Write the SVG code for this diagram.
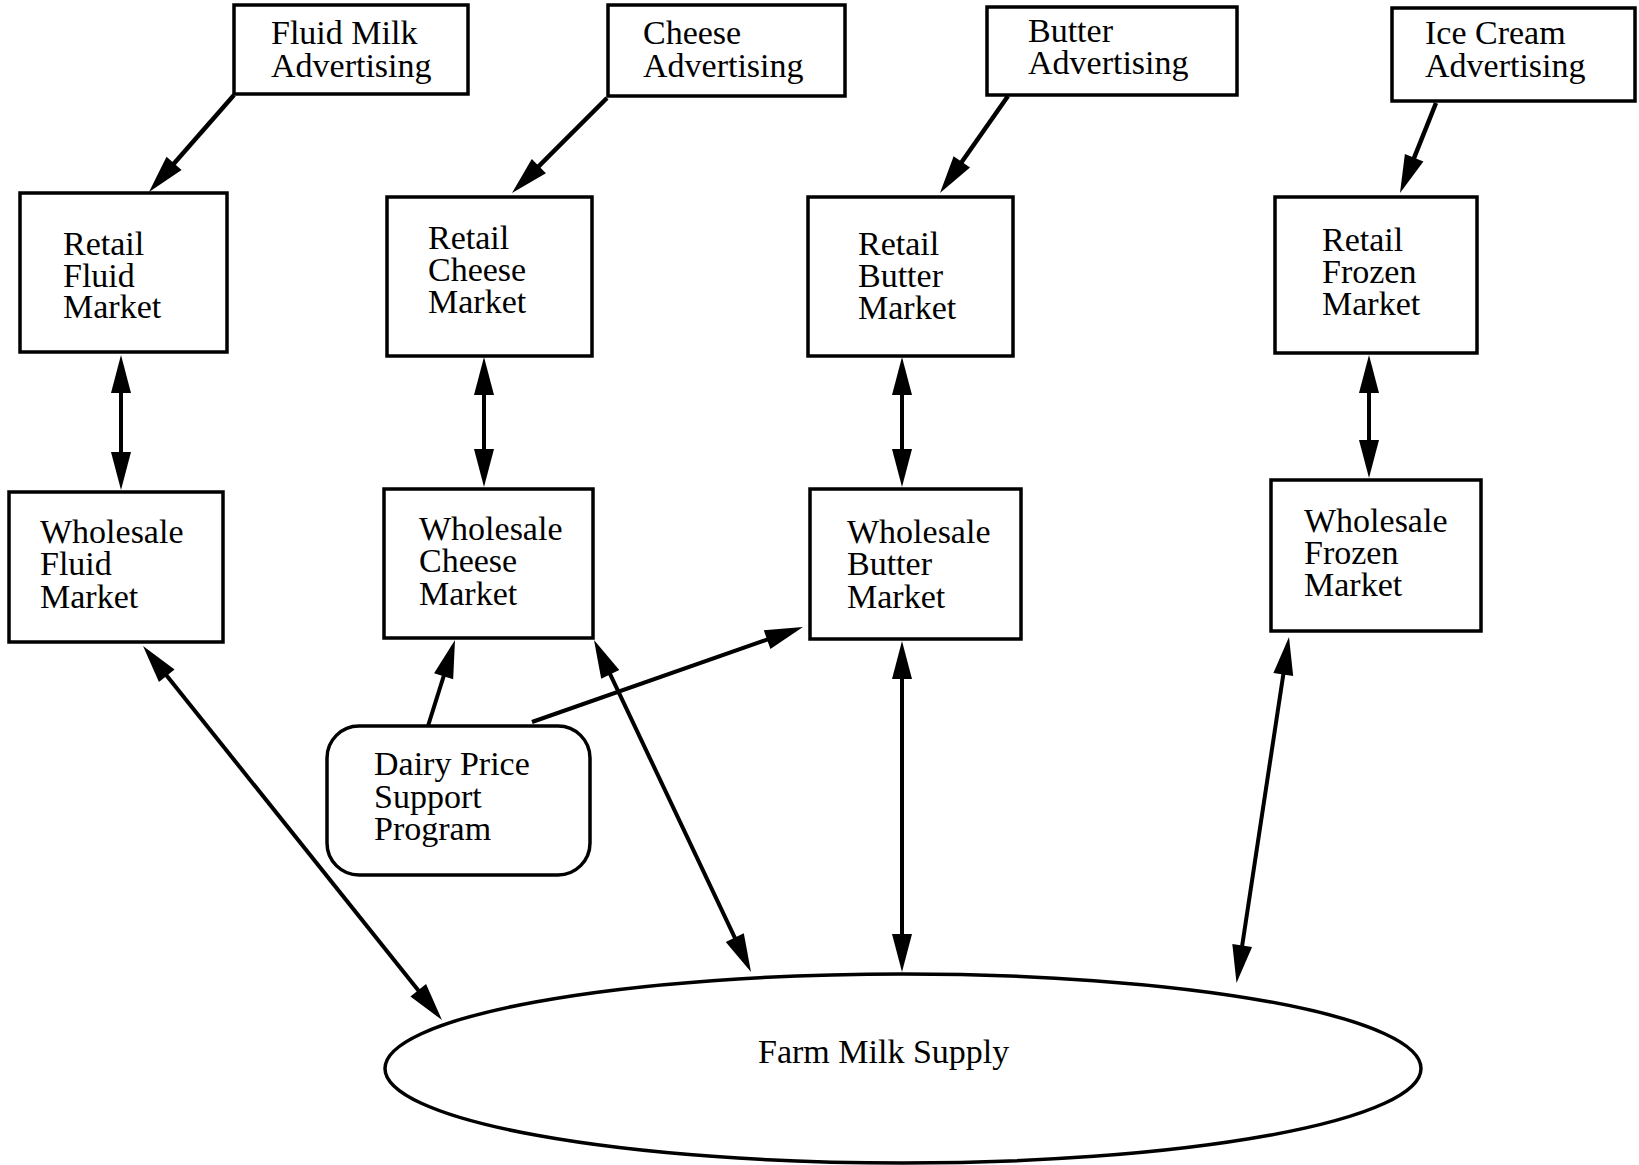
<svg xmlns="http://www.w3.org/2000/svg" width="1639" height="1165" viewBox="0 0 1639 1165">
<style>
.box{fill:#fff;stroke:#000;stroke-width:3.5}
.t{font-family:"Liberation Serif","Times New Roman",serif;font-size:34px;fill:#000}
.c{fill:none;stroke:#000;stroke-width:4}
.ad{stroke-width:4.5}
</style>
<defs>
<marker id="ah" markerUnits="userSpaceOnUse" markerWidth="40" markerHeight="22" refX="23" refY="10" orient="auto-start-reverse" overflow="visible">
<path d="M0,0 L38,10 L0,20 Z" fill="#000"/>
</marker>
</defs>
<rect width="1639" height="1165" fill="#fff"/>
<g id="connectors">
<path class="c ad" d="M234,95 L158.9,180.7" marker-end="url(#ah)"/>
<path class="c ad" d="M607,98 L522.6,182.4" marker-end="url(#ah)"/>
<path class="c ad" d="M1008,96 L948.6,180.7" marker-end="url(#ah)"/>
<path class="c ad" d="M1436,103 L1405.6,179.1" marker-end="url(#ah)"/>
<path class="c" d="M121,370 L121,475" marker-start="url(#ah)" marker-end="url(#ah)"/>
<path class="c" d="M484,372 L484,472" marker-start="url(#ah)" marker-end="url(#ah)"/>
<path class="c" d="M902,372 L902,472" marker-start="url(#ah)" marker-end="url(#ah)"/>
<path class="c" d="M1369,370 L1369,463" marker-start="url(#ah)" marker-end="url(#ah)"/>
<path class="c" d="M152.4,657.7 L432.6,1008.3" marker-start="url(#ah)" marker-end="url(#ah)"/>
<path class="c" d="M600.4,653.6 L744.6,958.4" marker-start="url(#ah)" marker-end="url(#ah)"/>
<path class="c" d="M902,656 L902,957" marker-start="url(#ah)" marker-end="url(#ah)"/>
<path class="c" d="M1286.75,651.8 L1238.75,968.2" marker-start="url(#ah)" marker-end="url(#ah)"/>
<path class="c" d="M428,726 L450.5,654.3" marker-end="url(#ah)"/>
<path class="c" d="M532,722 L788.8,632" marker-end="url(#ah)"/>
</g>
<g id="fluid-ad"><rect class="box" x="234" y="5" width="234" height="89"/><text class="t" x="271" y="44">Fluid Milk<tspan x="271" dy="33">Advertising</tspan></text></g>
<g id="cheese-ad"><rect class="box" x="608" y="5" width="237" height="91"/><text class="t" x="643" y="44">Cheese<tspan x="643" dy="33">Advertising</tspan></text></g>
<g id="butter-ad"><rect class="box" x="987" y="7" width="250" height="88"/><text class="t" x="1028" y="42">Butter<tspan x="1028" dy="32">Advertising</tspan></text></g>
<g id="icecream-ad"><rect class="box" x="1392" y="8" width="243" height="93"/><text class="t" x="1425" y="44">Ice Cream<tspan x="1425" dy="33">Advertising</tspan></text></g>
<g id="retail-fluid"><rect class="box" x="20" y="193" width="207" height="159"/><text class="t" x="63" y="255">Retail<tspan x="63" dy="32">Fluid</tspan><tspan x="63" dy="31">Market</tspan></text></g>
<g id="retail-cheese"><rect class="box" x="387" y="197" width="205" height="159"/><text class="t" x="428" y="249">Retail<tspan x="428" dy="32">Cheese</tspan><tspan x="428" dy="32">Market</tspan></text></g>
<g id="retail-butter"><rect class="box" x="808" y="197" width="205" height="159"/><text class="t" x="858" y="255">Retail<tspan x="858" dy="32">Butter</tspan><tspan x="858" dy="32">Market</tspan></text></g>
<g id="retail-frozen"><rect class="box" x="1275" y="197" width="202" height="156"/><text class="t" x="1322" y="251">Retail<tspan x="1322" dy="32">Frozen</tspan><tspan x="1322" dy="32">Market</tspan></text></g>
<g id="wholesale-fluid"><rect class="box" x="9" y="492" width="214" height="150"/><text class="t" x="40" y="543">Wholesale<tspan x="40" dy="32">Fluid</tspan><tspan x="40" dy="33">Market</tspan></text></g>
<g id="wholesale-cheese"><rect class="box" x="384" y="489" width="209" height="149"/><text class="t" x="419" y="540">Wholesale<tspan x="419" dy="32">Cheese</tspan><tspan x="419" dy="33">Market</tspan></text></g>
<g id="wholesale-butter"><rect class="box" x="810" y="489" width="211" height="150"/><text class="t" x="847" y="543">Wholesale<tspan x="847" dy="32">Butter</tspan><tspan x="847" dy="33">Market</tspan></text></g>
<g id="wholesale-frozen"><rect class="box" x="1271" y="480" width="210" height="151"/><text class="t" x="1304" y="532">Wholesale<tspan x="1304" dy="32">Frozen</tspan><tspan x="1304" dy="32">Market</tspan></text></g>
<g id="dairy-price-support"><rect class="box" x="327" y="726" width="263" height="149" rx="32" ry="32"/><text class="t" x="374" y="775">Dairy Price<tspan x="374" dy="33">Support</tspan><tspan x="374" dy="32">Program</tspan></text></g>
<g id="farm-milk-supply"><ellipse class="box" cx="903" cy="1068.5" rx="518" ry="94.5"/><text class="t" x="758" y="1063">Farm Milk Supply</text></g>
</svg>
